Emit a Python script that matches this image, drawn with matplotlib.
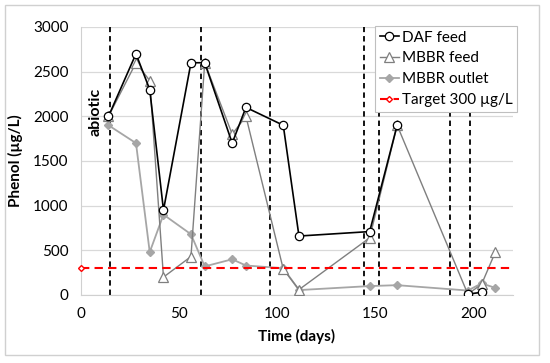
import numpy as np
import matplotlib.pyplot as plt
from matplotlib.patches import Rectangle

plt.rcParams['font.family'] = ['Lato', 'DejaVu Sans']

# sampling days and phenol concentrations (ug/L)
daf_days = [14, 28, 35, 42, 56, 63, 77, 84, 103, 111, 147, 161, np.nan, 197, 204]
daf_feed = [2000, 2700, 2300, 950, 2600, 2600, 1700, 2100, 1900, 660, 710, 1900, np.nan, 10, 30]

mbbr_days = [14, 28, 35, 42, 56, 63, 77, 84, 103, 111, 147, 161, 197, 204, 211]
mbbr_feed = [2000, 2600, 2400, 200, 430, 2600, 1800, 2000, 290, 60, 640, 1900, 10, 120, 480]
mbbr_outlet = [1900, 1700, 480, 900, 680, 320, 400, 330, 300, 55, 100, 110, 50, 130, 80]

target_days = [0, 220]
target = [300, 300]

# operational changes (dashed verticals)
phase_days = [15, 61, 96, 144, 152, 188, 198]

W, H = 550, 363
fig = plt.figure(figsize=(W / 100, H / 100), dpi=100)
fig.patches.append(Rectangle((5 / W, 1 - 355 / H), 534 / W, 350 / H,
                             transform=fig.transFigure, fill=False,
                             edgecolor='#d0d0d0', lw=1.0))

ax = fig.add_axes([81 / W, 1 - 295 / H, (513 - 81) / W, (295 - 27) / H])

for d in phase_days:
    ax.axvline(d, color='black', lw=1.3, ls=(0, (3, 2.2)), zorder=2)

ax.plot(daf_days, daf_feed, color='black', lw=1.2, marker='o', ms=6,
        mfc='white', mec='black', mew=0.9, label='DAF feed', zorder=5)
ax.plot(mbbr_days, mbbr_feed, color='#7f7f7f', lw=1.0, marker='^', ms=6.5,
        mfc='white', mec='#7f7f7f', mew=0.9, label='MBBR feed', zorder=4)
ax.plot(mbbr_days, mbbr_outlet, color='#a6a6a6', lw=1.3, marker='D', ms=4.5,
        mfc='#a6a6a6', mec='#a6a6a6', label='MBBR outlet', zorder=3)
ax.plot(target_days, target, color='#ff0000', lw=1.5, ls=(0, (4, 2.5)),
        marker='D', ms=3, mfc='white', mec='#ff0000', markevery=[0],
        label='Target 300 µg/L', zorder=6, clip_on=False)

ax.text(7.3, 2050, 'abiotic', rotation=90, ha='center', va='center',
        fontsize=11.5, fontweight='bold')

ax.set_xlim(0, 220)
ax.set_ylim(0, 3000)
ax.set_xticks([0, 50, 100, 150, 200])
ax.set_yticks(np.arange(0, 3001, 500))
ax.tick_params(length=0, labelsize=11)
ax.tick_params(axis='y', pad=9)
ax.tick_params(axis='x', pad=9)
ax.yaxis.grid(True, color='#d9d9d9', lw=0.9)
ax.set_axisbelow(True)
for s in ['top', 'right']:
    ax.spines[s].set_visible(False)
for s in ['left', 'bottom']:
    ax.spines[s].set_color('#d0d0d0')

ax.set_xlabel('Time (days)', fontsize=11, fontweight='bold', labelpad=5)
ax.set_ylabel('Phenol (µg/L)', fontsize=11, fontweight='bold', labelpad=7)

leg = ax.legend(loc='upper right', bbox_to_anchor=(517 / W, 1 - 26 / H),
                bbox_transform=fig.transFigure, fontsize=11, frameon=True,
                fancybox=False, edgecolor='#bfbfbf', framealpha=1,
                handlelength=1.3, handletextpad=0.15, borderpad=0.3,
                labelspacing=0.45, borderaxespad=0)
leg.get_frame().set_linewidth(0.8)

fig.savefig('out.png', dpi=100)
